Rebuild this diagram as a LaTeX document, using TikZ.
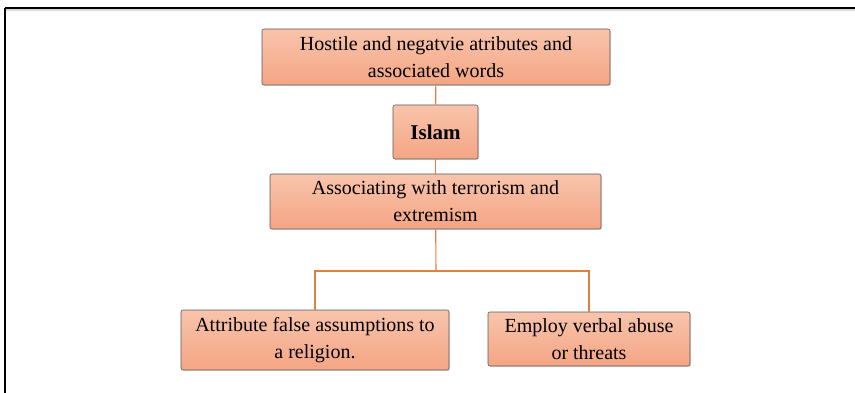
\documentclass[tikz,border=0pt]{standalone}
\usepackage{fontspec}
\setmainfont{Liberation Serif}
\usetikzlibrary{shadows}

\definecolor{salmontop}{HTML}{F8C4AC}
\definecolor{salmonbot}{HTML}{F4A584}
\definecolor{linkorange}{HTML}{E0813F}

\tikzset{
	box/.style={draw=black!65, line width=0.6pt, rounded corners=2pt,
		top color=salmontop, bottom color=salmonbot, align=center,
		inner sep=0pt, font=\fontsize{20}{27}\selectfont,
		drop shadow={opacity=0.25, shadow xshift=1pt, shadow yshift=-1.2pt}},
	link/.style={draw=linkorange, line width=1.1pt}
}

\begin{document}
\begin{tikzpicture}[x=1pt,y=-1pt]

	\useasboundingbox (0,0) rectangle (855,393);

	% frame
	\draw[black!15, line width=2pt] (6,10.5) -- (855,10.5);
	\draw[black, line width=1.3pt] (5,8) -- (855,8);
	\draw[black, line width=1.3pt] (5,8) -- (5,393);

	% boxes
	\node[box, minimum width=348pt, minimum height=56pt] (attrib) at (436,57)
		{Hostile and negatvie atributes and\\associated words};
	\node[box, minimum width=85pt, minimum height=54pt,
		font=\fontsize{21}{24}\selectfont\bfseries] (islam) at (435.5,132) {Islam};
	\node[box, minimum width=331pt, minimum height=55pt] (terror) at (435.5,201.5)
		{Associating with terrorism and\\extremism};
	\node[box, minimum width=268pt, minimum height=60pt] (assume) at (315,340)
		{Attribute false assumptions to\\a religion.};
	\node[box, minimum width=202pt, minimum height=54pt] (abuse) at (589,339)
		{Employ verbal abuse\\or threats};

	% connectors
	\coordinate (split) at (436,271);
	\draw[link] (attrib) -- (islam);
	\draw[link] (islam) -- (terror);
	\draw[link] (terror) -- (split);
	\draw[link] (split) -| (assume);
	\draw[link] (split) -| (abuse);

\end{tikzpicture}
\end{document}
